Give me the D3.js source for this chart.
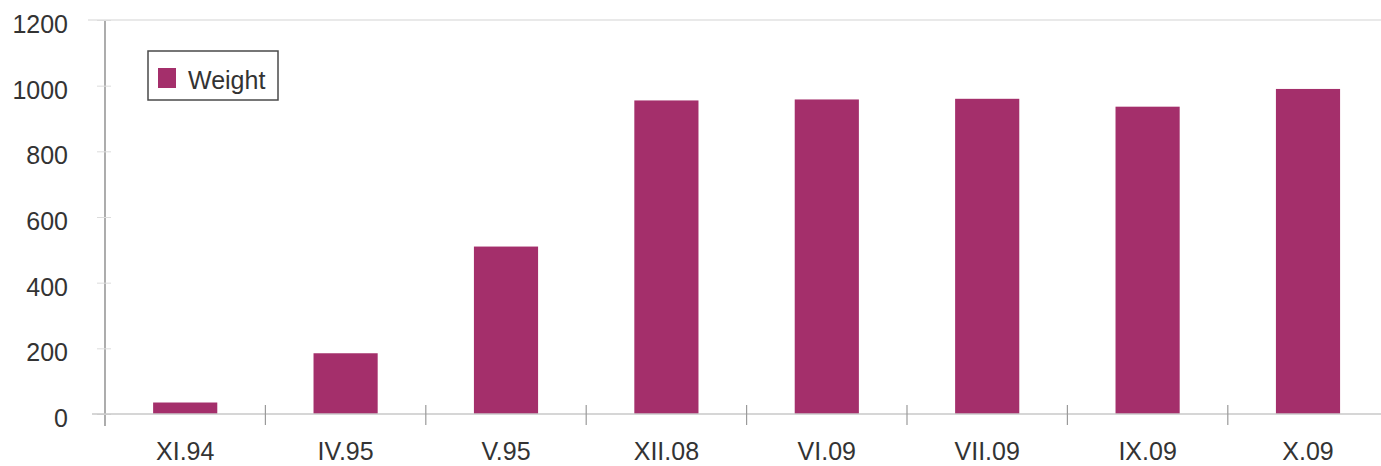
<!DOCTYPE html>
<html>
<head>
<meta charset="utf-8">
<script src="https://cdn.jsdelivr.net/npm/d3@7"></script>
<style>
  html, body { margin: 0; padding: 0; background: #fff; }
  svg { display: block; }
  text { font-family: "Liberation Sans", Arial, sans-serif; }
</style>
</head>
<body>
<svg id="chart" width="1381" height="466"></svg>
<script>
// Sampling dates and measured weight
const categories = ["XI.94", "IV.95", "V.95", "XII.08", "VI.09", "VII.09", "IX.09", "X.09"];
const weights = [35, 185, 510, 955, 958, 960, 936, 990];
const yTicks = [0, 200, 400, 600, 800, 1000, 1200];
const seriesName = "Weight";

const W = 1381, H = 466;
const margin = { left: 105, top: 20, bottom: 52 };
const plotRight = margin.left + 160.4 * categories.length;
const zeroY = H - margin.bottom;

const svg = d3.select("#chart");

const x = d3.scaleBand()
  .domain(categories)
  .range([margin.left, plotRight])
  .paddingInner(0.6)
  .paddingOuter(0.3);

const y = d3.scaleLinear()
  .domain([0, 1200])
  .range([zeroY, margin.top]);

const barColor = "#a42f6b";

// top border of the plot area
svg.append("line")
  .attr("x1", 88).attr("x2", W)
  .attr("y1", y(1200)).attr("y2", y(1200))
  .attr("stroke", "#d4d4d4").attr("stroke-width", 1.2);

// bars
svg.append("g")
  .selectAll("rect")
  .data(categories.map((c, i) => ({ c, v: weights[i] })))
  .join("rect")
  .attr("x", d => x(d.c))
  .attr("y", d => y(d.v))
  .attr("width", x.bandwidth())
  .attr("height", d => y(0) - y(d.v))
  .attr("fill", barColor);

// y axis
const yAxis = d3.axisLeft(y).tickValues(yTicks).tickFormat(d3.format("d")).tickSize(0).tickPadding(37);
const gy = svg.append("g")
  .attr("transform", `translate(${margin.left},0)`)
  .call(yAxis);
gy.select(".domain")
  .attr("d", `M0,${margin.top}V${zeroY + 12}`)
  .attr("stroke", "#808080").attr("stroke-width", 1.3);
gy.selectAll(".tick text")
  .attr("font-size", 25).attr("fill", "#333").attr("dy", "0.5em");
gy.selectAll(".tick").append("line")
  .attr("x1", -8).attr("x2", 6)
  .attr("stroke", "#dcdcdc").attr("stroke-width", 1);

// x axis: category boundary ticks crossing the baseline
const boundaries = d3.range(1, categories.length).map(i => margin.left + i * (plotRight - margin.left) / categories.length);
const gx = svg.append("g");
gx.append("line")
  .attr("x1", 92).attr("x2", W)
  .attr("y1", zeroY).attr("y2", zeroY)
  .attr("stroke", "#c8c8c8").attr("stroke-width", 1.3);
gx.selectAll("line.tick")
  .data(boundaries)
  .join("line")
  .attr("class", "tick")
  .attr("x1", d => d).attr("x2", d => d)
  .attr("y1", zeroY - 9).attr("y2", zeroY + 11)
  .attr("stroke", "#9a9a9a").attr("stroke-width", 1.2);

const xAxis = d3.axisBottom(x).tickSize(0).tickPadding(28);
const gxl = svg.append("g")
  .attr("transform", `translate(0,${zeroY})`)
  .call(xAxis);
gxl.select(".domain").remove();
gxl.selectAll(".tick text")
  .attr("font-size", 25).attr("fill", "#333");

// legend
const lg = svg.append("g").attr("transform", "translate(148,51)");
lg.append("rect")
  .attr("width", 130).attr("height", 49)
  .attr("fill", "#fff").attr("stroke", "#4a4a4a").attr("stroke-width", 1.5);
lg.append("rect")
  .attr("x", 10).attr("y", 17).attr("width", 18).attr("height", 20)
  .attr("fill", barColor);
lg.append("text")
  .attr("x", 40).attr("y", 38)
  .attr("font-size", 25).attr("fill", "#333")
  .text(seriesName);
</script>
</body>
</html>
